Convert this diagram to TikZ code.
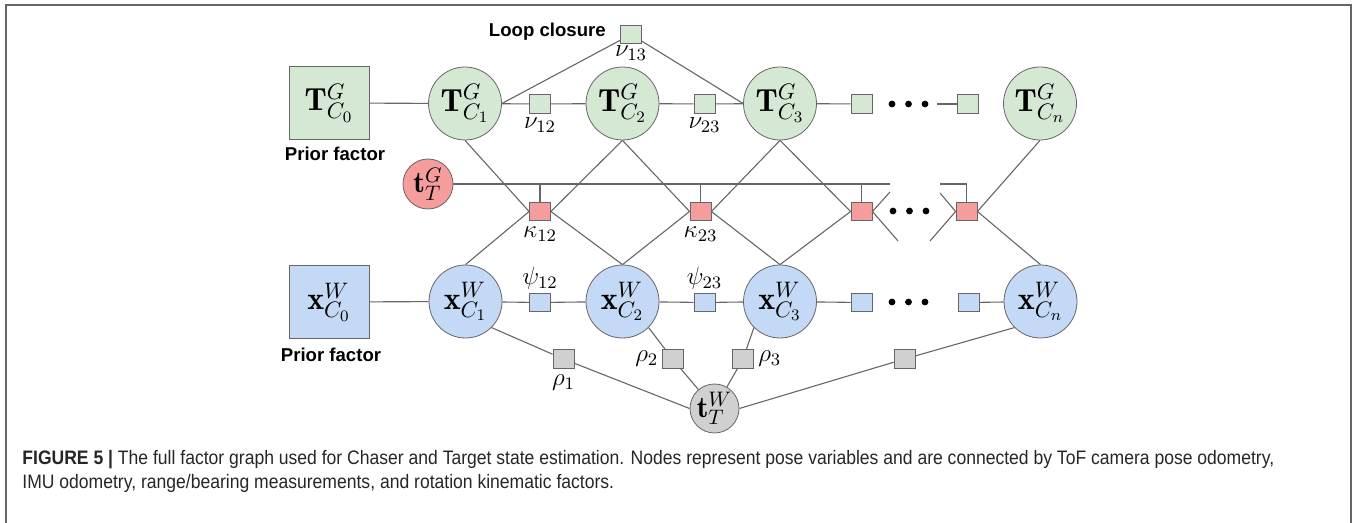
\RequirePackage{fix-cm}
\documentclass[tikz,border=0pt]{standalone}
\usepackage{fontspec}
\newfontfamily\capfont[FakeStretch=0.9]{Liberation Sans}
\newfontfamily\notefont{Liberation Sans}
\usetikzlibrary{positioning}
\definecolor{Gc}{HTML}{D5E8D4}
\definecolor{Bc}{HTML}{C3D9F5}
\definecolor{Rc}{HTML}{F59C9C}
\definecolor{Kc}{HTML}{D0D0D0}
\definecolor{edgec}{HTML}{666666}
\tikzset{
  var/.style={circle, draw=edgec, inner sep=0pt, minimum size=36.5pt, font=\fontsize{16}{18}\selectfont},
  Gv/.style={var, fill=Gc},
  Bv/.style={var, fill=Bc},
  Rv/.style={var, fill=Rc, minimum size=25pt, font=\fontsize{15}{17}\selectfont},
  Kv/.style={var, fill=Kc, minimum size=24.5pt, font=\fontsize{15}{17}\selectfont},
  fac/.style={rectangle, draw=edgec, inner sep=0pt, minimum width=10.5pt, minimum height=9.3pt},
  Gf/.style={fac, fill=Gc},
  Bf/.style={fac, fill=Bc},
  Rf/.style={fac, fill=Rc},
  Kf/.style={fac, fill=Kc},
  prior/.style={rectangle, draw=edgec, inner sep=0pt, minimum width=40pt, minimum height=36.5pt, font=\fontsize{16}{18}\selectfont},
  lbl/.style={inner sep=0pt, font=\fontsize{12.5}{14}\selectfont},
  note/.style={inner sep=0pt, font=\notefont\bfseries\fontsize{9.3}{11}\selectfont},
  edge/.style={draw=edgec, line width=0.55pt},
  frame/.style={draw=black!60, line width=0.75pt},
}
% three dots standing for the omitted steps
\newcommand{\dotrow}[2]{\foreach \dx in {0,16.5,33} \fill ({#1+\dx},#2) circle (1.7pt);}

\begin{document}
\begin{tikzpicture}[x=0.5pt, y=-0.5pt]
  \useasboundingbox (0,0) rectangle (1354,523);
  \draw[frame] (6,530) -- (6,5) -- (1351,5) -- (1351,530);

  % camera poses in G
  \node[prior, fill=Gc] (TC0) at (329,103) {$\mathbf{T}^G_{C_0}$};
  \node[Gv] (TC1) at (465,103.5) {$\mathbf{T}^G_{C_1}$};
  \node[Gv] (TC2) at (622.5,103.5) {$\mathbf{T}^G_{C_2}$};
  \node[Gv] (TC3) at (780,103.5) {$\mathbf{T}^G_{C_3}$};
  \node[Gv] (TCn) at (1040,103.5) {$\mathbf{T}^G_{C_n}$};
  \node[Gf] (nu12) at (540,104) {};
  \node[Gf] (nu23) at (704.5,104) {};
  \node[Gf] (g4) at (861.5,104) {};
  \node[Gf] (g5) at (968,104) {};
  \node[Gf] (nu13) at (631,34.5) {};
  \coordinate (gL) at (937,104);
  \node[lbl, below=2pt of nu12] (lnu12) {$\nu_{12}$};
  \node[lbl, below=2pt of nu23] (lnu23) {$\nu_{23}$};
  \node[lbl, below=0.5pt of nu13] (lnu13) {$\nu_{13}$};
  \node[note, left=7pt of nu13, yshift=1.5pt] (loop) {Loop closure};
  \node[note, below=3.5pt of TC0, xshift=3pt] (prG) {Prior factor};
  \dotrow{892}{104}

  % target position in G
  \node[Rv] (tTG) at (428,184) {$\mathbf{t}^G_T$};
  \node[Rf] (k12) at (540,211.5) {};
  \node[Rf] (k23) at (700.5,211.5) {};
  \node[Rf] (k3) at (861.5,211.5) {};
  \node[Rf] (k4) at (966.5,211.5) {};
  \coordinate (busR) at (890,184);
  \coordinate (busL) at (940,184);
  \coordinate (cA) at (890,192);
  \coordinate (cB) at (898,241);
  \coordinate (cC) at (940,193);
  \coordinate (cD) at (930,241);
  \node[lbl, below=2.5pt of k12] (lk12) {$\kappa_{12}$};
  \node[lbl, below=2.5pt of k23] (lk23) {$\kappa_{23}$};
  \dotrow{893}{211}

  % camera states in W
  \node[prior, fill=Bc] (XC0) at (329,302) {$\mathbf{x}^W_{C_0}$};
  \node[Bv] (XC1) at (465.5,301.5) {$\mathbf{x}^W_{C_1}$};
  \node[Bv] (XC2) at (622.5,301.5) {$\mathbf{x}^W_{C_2}$};
  \node[Bv] (XC3) at (780,301.5) {$\mathbf{x}^W_{C_3}$};
  \node[Bv] (XCn) at (1040.5,301.5) {$\mathbf{x}^W_{C_n}$};
  \node[Bf] (psi12) at (540,302.5) {};
  \node[Bf] (psi23) at (704.5,302.5) {};
  \node[Bf] (b4) at (861.5,302.5) {};
  \node[Bf] (b5) at (968.5,302.5) {};
  \node[lbl, above=1.5pt of psi12] (lpsi12) {$\psi_{12}$};
  \node[lbl, above=1.5pt of psi23] (lpsi23) {$\psi_{23}$};
  \node[note, below=4.5pt of XC0, xshift=1pt] (prW) {Prior factor};
  \dotrow{892}{302}

  % target position in W
  \node[Kv] (tTW) at (714.5,408.5) {$\mathbf{t}^W_T$};
  \node[Kf] (rho1) at (563.5,359) {};
  \node[Kf] (rho2) at (672.5,359) {};
  \node[Kf] (rho3) at (743,359) {};
  \node[Kf] (rho4) at (904.5,359) {};
  \node[lbl, below=3pt of rho1] (lrho1) {$\rho_1$};
  \node[lbl, left=1.5pt of rho2] (lrho2) {$\rho_2$};
  \node[lbl, right=2pt of rho3] (lrho3) {$\rho_3$};

  % edges
  \draw[edge] (TC0) -- (TC1) -- (nu12) -- (TC2) -- (nu23) -- (TC3) -- (g4);
  \draw[edge] (gL) -- (g5);
  \draw[edge] (TC1.east) -- (nu13) -- (TC3.west);
  \draw[edge] (XC0) -- (XC1) -- (psi12) -- (XC2) -- (psi23) -- (XC3) -- (b4);
  \draw[edge] (b5) -- (XCn);
  \draw[edge] (tTG) -- (busR);
  \draw[edge] (busL) -| (k4);
  \foreach \k in {k12,k23,k3} \draw[edge] (\k) -- (\k |- tTG);
  \foreach \a/\f/\b in {TC1/k12.west/XC1, TC2/k12.east/XC2, TC2/k23.west/XC2,
                        TC3/k23.east/XC3, TC3/k3.west/XC3, TCn/k4.east/XCn}
    \draw[edge] (\a.south) -- (\f) -- (\b.north);
  \draw[edge] (cA) -- (k3.east) -- (cB);
  \draw[edge] (cC) -- (k4.west) -- (cD);
  \draw[edge] (XC1.south east) -- (rho1) -- (tTW.west);
  \draw[edge] (XC2.south east) -- (rho2) -- (tTW);
  \draw[edge] (XC3.south west) -- (rho3) -- (tTW);
  \draw[edge] (XCn.south west) -- (rho4) -- (tTW.east);

  \node[anchor=north west, inner sep=0pt, align=left, text=black!85,
        font=\capfont\fontsize{9.75}{12}\selectfont] (caption) at (22,450)
    {\textbf{FIGURE 5 |} The full factor graph used for Chaser and Target state estimation. Nodes represent pose variables and are connected by ToF camera pose odometry,\\
     IMU odometry, range/bearing measurements, and rotation kinematic factors.};
\end{tikzpicture}
\end{document}
